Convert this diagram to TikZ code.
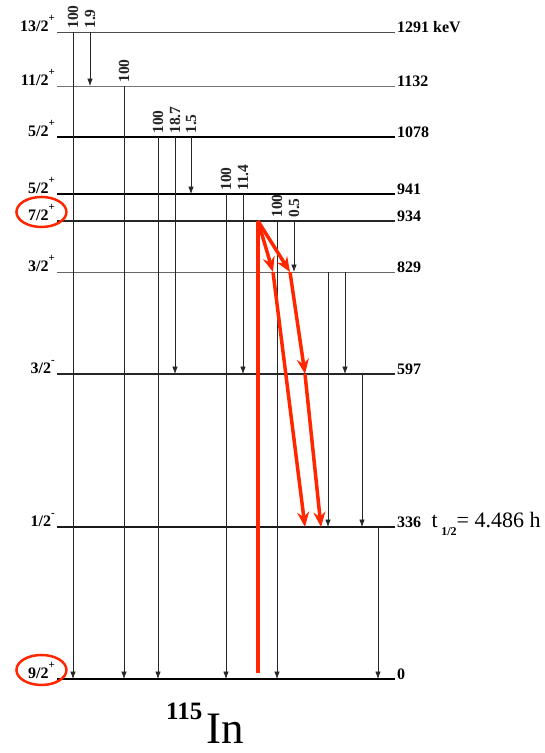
\documentclass[tikz,border=0pt]{standalone}
\usepackage{fontspec}
\setmainfont{Liberation Serif}
\usetikzlibrary{arrows.meta,positioning,shapes.geometric}
\definecolor{hlred}{RGB}{255,38,0}
\newcommand\jpi[2]{#1\raisebox{10pt}{\fontsize{11pt}{11pt}\selectfont #2}}

\begin{document}
\begin{tikzpicture}[x=1pt,y=-1pt,
    every node/.style={inner sep=0pt,font=\fontsize{16pt}{16pt}\selectfont\bfseries},
    spin/.style={anchor=base east},
    energy/.style={anchor=base west},
    inten/.style={rotate=90,anchor=west,inner xsep=3pt,
                  font=\fontsize{15.5pt}{15.5pt}\selectfont\bfseries},
    trans/.style={black!85,line width=0.7pt,-{Latex[length=7.5pt,width=5.5pt]}},
    hl/.style={hlred,line width=3.5pt},
    hlarrow/.style={hl,-{Stealth[length=15pt,width=12pt,inset=5pt]}},
    ring/.style={draw=hlred,ellipse,line width=2.5pt,minimum width=50pt,minimum height=30pt}]
  \useasboundingbox (0,0) rectangle (545,753);

  % levels
  \foreach \n/\y/\w/\c/\sp/\en in {
      1291/32/1.0/black!70/{\jpi{13/2}{+}}/{1291 keV},
      1132/86/0.8/black!55/{\jpi{11/2}{+}}/{1132},
      1078/137/1.8/black/{\jpi{5/2}{+}}/{1078},
      941/194/1.8/black/{\jpi{5/2}{+}}/{941},
      934/221/1.3/black!85/{\jpi{7/2}{+}}/{934},
      829/272/1.0/black!60/{\jpi{3/2}{+}}/{829},
      597/374/1.3/black!85/{\jpi{3/2}{-}}/{597},
      336/527/1.8/black!90/{\jpi{1/2}{-}}/{336},
      0/679/2.4/black/{\jpi{9/2}{+}}/{0}}{
    \coordinate (l\n) at (57,\y);
    \coordinate (r\n) at (395,\y);
    \draw[line width=\w pt,\c] (l\n) -- (r\n);
    \node[spin] (s\n) at (55,\y-1) {\sp};
    \node[energy] (e\n) at (397,\y) {\en};
  }

  % gamma transitions with intensities
  \foreach \x/\a/\b/\i in {73/1291/0/100, 90/1291/1132/1.9, 124/1132/0/100,
      158/1078/0/100, 175/1078/597/18.7, 191/1078/941/1.5,
      226/941/0/100, 243/941/597/11.4, 277/934/0/100, 294/934/829/0.5}
    \draw[trans] (\x,0 |- l\a) node[inten] {\i} -- (\x,0 |- l\b);
  \foreach \x/\a/\b in {328/829/336, 345/829/597, 362/597/336, 378/336/0}
    \draw[trans] (\x,0 |- l\a) -- (\x,0 |- l\b);

  % highlighted cascade
  \coordinate (h0) at (258,221);
  \coordinate (h1) at (273,272);
  \coordinate (h2) at (290,272);
  \coordinate (h3) at (305,374);
  \coordinate (h4) at (305,527);
  \coordinate (h5) at (321,527);
  \coordinate (h6) at (258,673);
  \draw[hl] (h0) -- (h6);
  \draw[hlarrow] (h0) -- (h1);
  \draw[hlarrow] (h0) -- (h2);
  \draw[hlarrow] (h1) -- (h4);
  \draw[hlarrow] (h2) -- (h3);
  \draw[hlarrow] (h3) -- (h5);
  \node[ring] (o934) at (s934) {};
  \node[ring] (o0) at (s0) {};

  \node[anchor=base west,font=\fontsize{22pt}{22pt}\selectfont\mdseries] (thalf)
       at ([xshift=10pt]e336.base east)
       {t\,\raisebox{-8pt}{\fontsize{12pt}{12pt}\selectfont\bfseries 1/2}= 4.486 h};
  \node[anchor=base west,font=\fontsize{45pt}{45pt}\selectfont\mdseries] (nuc)
       at (166,743) {\raisebox{24pt}{\fontsize{25pt}{25pt}\selectfont\bfseries 115}\hspace{4pt}In};
\end{tikzpicture}
\end{document}
